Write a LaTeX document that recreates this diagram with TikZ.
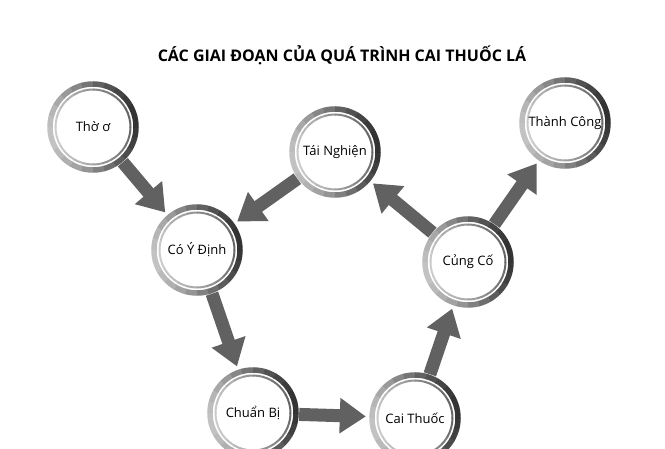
\documentclass[tikz,border=0pt]{standalone}
\usepackage{fontspec}
\setmainfont{Open Sans}
\usetikzlibrary{arrows.meta}
\begin{document}
\begin{tikzpicture}[x=1pt,y=-1pt,
  stage/.style={circle,minimum size=96pt,inner sep=0pt,font=\fontsize{13}{15}\selectfont},
  flow/.style={draw=black!62,line width=13pt,-{Triangle[length=26pt,width=34pt]},shorten <=-2pt,shorten >=1pt}]
\useasboundingbox (0,0) rectangle (665,449);
\clip (0,0) rectangle (665,449);
\node[font=\bfseries\fontsize{16}{19}\selectfont] (title) at (342,55) {CÁC GIAI ĐOẠN CỦA QUÁ TRÌNH CAI THUỐC LÁ};
\foreach \n/\x/\y/\t in {tho/93/127/{Thờ ơ},co/197/250/{Có Ý Định},tai/335/152/{Tái Nghiện},thanh/565/123/{Thành Công},cung/468/262/{Củng Cố},chuan/253/413/{Chuẩn Bị},cai/415/418/{Cai Thuốc}}{
  \foreach \a in {0,15,...,345}{
    \pgfmathtruncatemacro\sh{round(52+28*cos(\a+20))}
    \pgfmathtruncatemacro\shi{round(40+20*cos(\a+20))}
    \draw[black!\sh,line width=5.5pt] (\x,\y) ++(\a:43) arc (\a:\a+16:43);
    \draw[black!\shi,line width=2pt] (\x,\y) ++(\a:37.5) arc (\a:\a+16:37.5);
  }
  \node[stage] (\n) at (\x,\y) {\t};
}
\draw[flow] (tho) -- (co);
\draw[flow] (tai) -- (co);
\draw[flow] (co) -- (chuan);
\draw[flow] (chuan) -- (cai);
\draw[flow] (cai) -- (cung);
\draw[flow] (cung) -- (tai);
\draw[flow] (cung) -- (thanh);
\end{tikzpicture}
\end{document}
